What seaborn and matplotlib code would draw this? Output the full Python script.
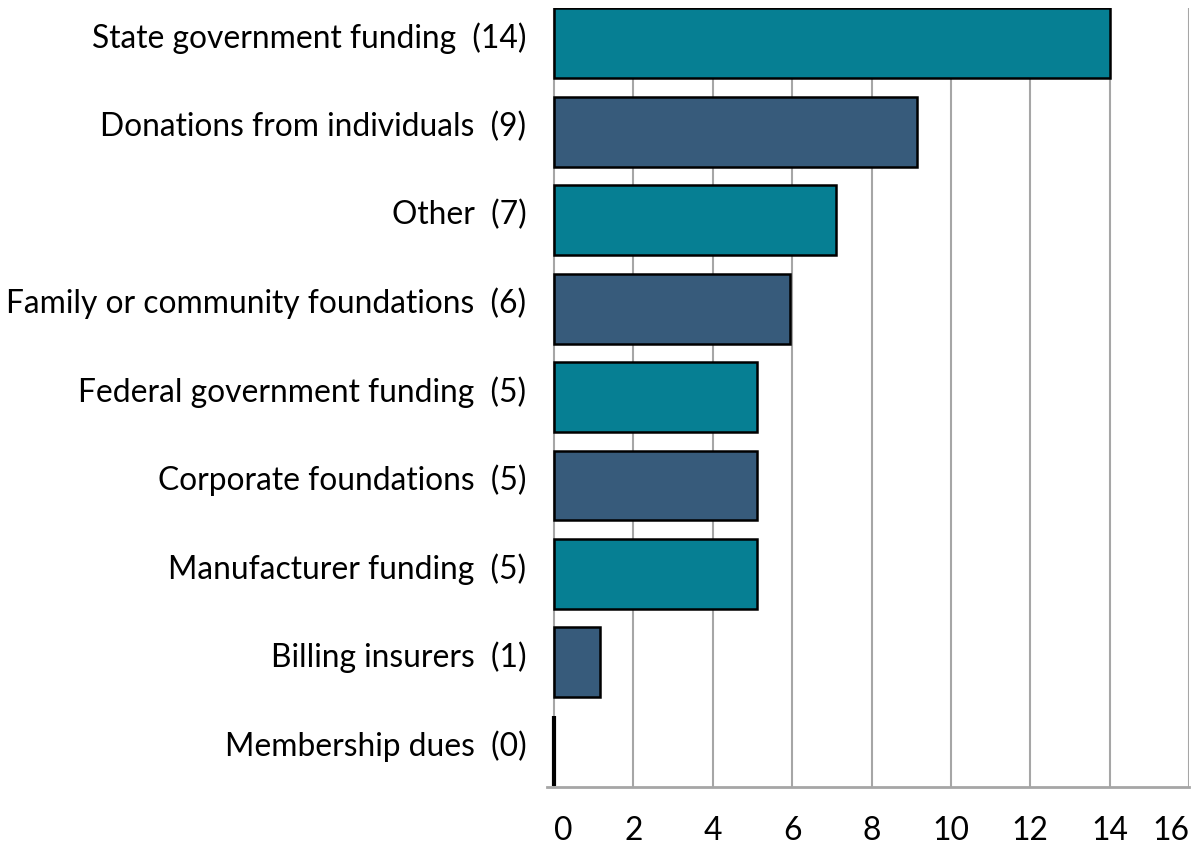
import matplotlib
matplotlib.use("Agg")
import matplotlib.pyplot as plt
import matplotlib.transforms as mtrans
import seaborn as sns
import pandas as pd

# funding sources, counts shown in labels, bar lengths as drawn
sources = ["State government funding", "Donations from individuals", "Other",
           "Family or community foundations", "Federal government funding",
           "Corporate foundations", "Manufacturer funding", "Billing insurers",
           "Membership dues"]
counts = [14, 9, 7, 6, 5, 5, 5, 1, 0]
lengths = [14.0, 9.15, 7.1, 5.95, 5.1, 5.1, 5.1, 1.15, 0.0]
ticks = [0, 2, 4, 6, 8, 10, 12, 14, 16]

teal = "#067f93"
navy = "#375b7b"
colors = [teal if i % 2 == 0 else navy for i in range(len(sources))]

labels = [f"{s}  ({c})" for s, c in zip(sources, counts)]
df = pd.DataFrame({"label": labels, "value": lengths})

sns.set_style("white")
plt.rcParams["font.family"] = ["Lato", "DejaVu Sans"]

fig = plt.figure(figsize=(12.01, 8.48), dpi=100)
ax = fig.add_axes([547 / 1201, 1 - 787 / 848, (1189 - 547) / 1201, (787 - 8) / 848])

sns.barplot(data=df, x="value", y="label", hue="label", palette=colors,
            legend=False, width=0.79, saturation=1, edgecolor="black",
            linewidth=1.8, ax=ax)

# zero-length bar shows up as a heavier black line
for p in ax.patches:
    if p.get_width() == 0:
        p.set_linewidth(3)

ax.set_xlim(-0.18, 16)
ax.set_ylim(8.41, -0.4)
ax.set_xticks(ticks)
ax.set_xticklabels([str(t) for t in ticks])
ax.xaxis.grid(True, color="#a6a6a6", linewidth=1.5)
ax.yaxis.grid(False)
ax.set_axisbelow(True)

for side in ["top", "right", "left"]:
    ax.spines[side].set_visible(False)
ax.spines["bottom"].set_color("#a6a6a6")
ax.spines["bottom"].set_linewidth(2)

ax.tick_params(axis="x", length=0, pad=21, labelsize=22.9, colors="black")
ax.tick_params(axis="y", length=0, pad=15, labelsize=22.9, colors="black")
ax.set_xlabel("")
ax.set_ylabel("")

# nudge y labels up a bit, keep end x labels inside the figure
up = mtrans.ScaledTranslation(0, 8 / 100, fig.dpi_scale_trans)
for lab in ax.get_yticklabels():
    lab.set_transform(lab.get_transform() + up)
xlabs = ax.get_xticklabels()
xlabs[0].set_horizontalalignment("left")
xlabs[-1].set_horizontalalignment("right")

fig.savefig("out.png", dpi=100)
